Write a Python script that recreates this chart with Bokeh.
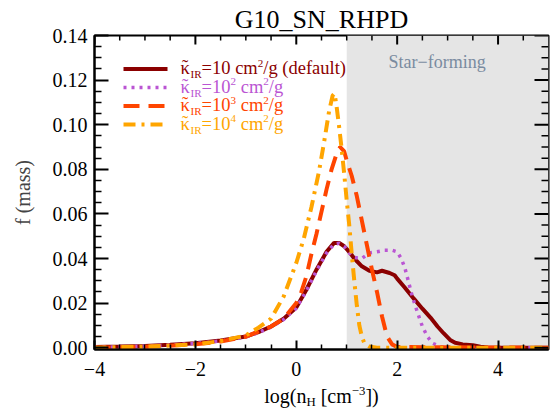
import math
from bokeh.plotting import figure
from bokeh.layouts import column
from bokeh.models import Label, BoxAnnotation, FixedTicker, Range1d
from bokeh.core.properties import value
from bokeh.embed import file_html
from bokeh.resources import INLINE

# ---------------- data ----------------
TITLE = "G10_SN_RHPD"
X_RANGE = (-4.0, 5.0)
Y_RANGE = (-0.0008, 0.14)
STAR_FORMING_MIN = 1.0

X_TICKS = [-4, -2, 0, 2, 4]
X_TICK_LABELS = ["\u22124", "\u22122", "0", "2", "4"]
X_MINOR = [-3.5, -3, -2.5, -1.5, -1, -0.5, 0.5, 1, 1.5, 2.5, 3, 3.5, 4.5]
Y_TICKS = [0.0, 0.02, 0.04, 0.06, 0.08, 0.10, 0.12, 0.14]
Y_TICK_LABELS = ["0.00", "0.02", "0.04", "0.06", "0.08", "0.10", "0.12", "0.14"]
Y_MINOR = [0.005, 0.01, 0.015, 0.025, 0.03, 0.035, 0.045, 0.05, 0.055, 0.065, 0.07, 0.075,
           0.085, 0.09, 0.095, 0.105, 0.11, 0.115, 0.125, 0.13, 0.135]

# kappa_IR = 10 cm^2/g (default)
x_k1 = [-4.0, -3.5, -3.0, -2.5, -2.0, -1.5, -1.0, -0.75, -0.5, -0.25, 0.0, 0.2, 0.4, 0.6,
        0.75, 0.85, 0.95, 1.05, 1.15, 1.3, 1.45, 1.6, 1.7, 1.85, 1.95, 2.0, 2.15, 2.33, 2.5,
        2.66, 2.8, 2.92, 3.05, 3.15, 3.3, 3.5, 3.65, 3.8, 4.0, 5.0]
y_k1 = [0.0003, 0.0005, 0.0008, 0.0013, 0.002, 0.0032, 0.005, 0.007, 0.0095, 0.013, 0.018,
        0.026, 0.035, 0.043, 0.047, 0.047, 0.0455, 0.043, 0.040, 0.0365, 0.0345, 0.0338,
        0.0345, 0.0335, 0.0325, 0.031, 0.027, 0.022, 0.0175, 0.0135, 0.0095, 0.0065, 0.0035,
        0.0022, 0.0015, 0.0011, 0.0004, 0.0001, 0.0, 0.0]

# kappa_IR = 10^2 cm^2/g
x_k2 = [-4.0, -3.5, -3.0, -2.5, -2.0, -1.5, -1.0, -0.75, -0.5, -0.25, 0.0, 0.2, 0.4, 0.6,
        0.75, 0.85, 0.95, 1.05, 1.15, 1.3, 1.45, 1.6, 1.75, 1.9, 2.0, 2.08, 2.15, 2.22, 2.3,
        2.4, 2.5, 2.6, 2.7, 2.85, 3.0, 5.0]
y_k2 = [0.0002, 0.0004, 0.0007, 0.0012, 0.0019, 0.003, 0.0048, 0.0068, 0.0092, 0.0127,
        0.0177, 0.0255, 0.0345, 0.0425, 0.0465, 0.0468, 0.0455, 0.0425, 0.0405, 0.040,
        0.0425, 0.043, 0.0437, 0.0437, 0.043, 0.040, 0.036, 0.030, 0.023, 0.016, 0.0095,
        0.005, 0.002, 0.0005, 0.0, 0.0]

# kappa_IR = 10^3 cm^2/g
x_k3 = [-4.0, -3.0, -2.0, -1.5, -1.0, -0.5, -0.25, 0.0, 0.1, 0.2, 0.3, 0.4, 0.5, 0.6, 0.7,
        0.8, 0.87, 0.95, 1.0, 1.1, 1.2, 1.3, 1.4, 1.5, 1.6, 1.7, 1.8, 1.9, 2.0, 5.0]
y_k3 = [0.0, 0.0004, 0.0015, 0.0028, 0.005, 0.0095, 0.013, 0.020, 0.025, 0.032, 0.042, 0.051,
        0.061, 0.071, 0.080, 0.087, 0.090, 0.088, 0.084, 0.077, 0.068, 0.057, 0.046, 0.035,
        0.025, 0.014, 0.005, 0.0015, 0.0003, 0.0]

# kappa_IR = 10^4 cm^2/g
x_k4 = [-4.0, -3.0, -2.0, -1.5, -1.0, -0.75, -0.5, -0.25, 0.0, 0.15, 0.3, 0.45, 0.55, 0.65,
        0.72, 0.76, 0.8, 0.85, 0.9, 0.95, 1.0, 1.05, 1.1, 1.15, 1.2, 1.25, 1.3, 1.35, 1.45,
        1.6, 5.0]
y_k4 = [0.0, 0.0005, 0.0015, 0.003, 0.0055, 0.009, 0.013, 0.023, 0.038, 0.049, 0.063, 0.079,
        0.092, 0.106, 0.113, 0.114, 0.108, 0.099, 0.089, 0.078, 0.066, 0.055, 0.042, 0.030,
        0.019, 0.010, 0.005, 0.002, 0.0005, 0.0, 0.0]

SERIES_EXP = [None, "2", "3", "4"]

# ---------------- styling / layout (image pixels) ----------------
FONT = "Liberation Serif"
COLORS = ["#8B0000", "#BA55D3", "#FF4500", "#FFA500"]
DASHES = ["solid", "3 5", "16 9", "12 6 3 6"]
WIDTHS = [4, 3.5, 4, 4]
BASE_FIX = 0.28   # correction (in em) so that text baselines land where intended

W = 550
FL, FR, FT, FB = 94, 548, 35, 349          # plot frame
MAIN_BOTTOM_BORDER = 34
H_MAIN = FT + (FB - FT) + MAIN_BOTTOM_BORDER   # 0..383
H_XLAB = 25                                     # 383..408
XLAB_TOP = H_MAIN

# Times metrics (per 1000 em)
WT = {' ': 250, '(': 333, ')': 333, '[': 333, ']': 333, '/': 278, '=': 564, '\u2212': 564,
      '.': 250, '_': 500, '\u03ba': 540, '\u02dc': 333,
      'a': 444, 'b': 500, 'c': 444, 'd': 500, 'e': 444, 'f': 333, 'g': 500, 'h': 500, 'i': 278,
      'l': 278, 'm': 778, 'n': 500, 'o': 500, 'r': 333, 's': 389, 't': 278, 'u': 500,
      'D': 722, 'G': 722, 'H': 722, 'I': 333, 'N': 722, 'P': 556, 'R': 667, 'S': 556}


def tw(s, size):
    return sum(WT.get(c, 500) for c in s) / 1000.0 * size


def layout_pieces(x_start, pieces, size, align="left"):
    """pieces: (text, scale, yshift_px, xshift_px, advance)"""
    out = []
    x = 0.0
    for t, sc, sh, xs, adv in pieces:
        fs = size * sc
        lead = len(t) - len(t.lstrip(' '))
        trail = len(t) - len(t.rstrip(' '))
        core = t.strip(' ')
        x += lead * tw(' ', fs)
        if core:
            out.append((x + xs, sh, core, fs))
        if adv:
            x += tw(core, fs) + trail * tw(' ', fs)
    total = x
    x0 = x_start - (total / 2 if align == "center" else 0)
    return [(x0 + a, b, c, d) for a, b, c, d in out]


# ---- main figure ----
p = figure(width=W, height=H_MAIN, output_backend="svg", toolbar_location=None,
           x_range=Range1d(*X_RANGE), y_range=Range1d(*Y_RANGE),
           min_border_left=FL, min_border_right=W - FR,
           min_border_top=FT, min_border_bottom=MAIN_BOTTOM_BORDER, title=TITLE)
p.title.text_font = FONT
p.title.text_font_size = "26px"
p.title.text_font_style = "normal"
p.title.text_color = "black"
p.title.align = "center"
p.title.standoff = 4
p.xgrid.visible = False
p.ygrid.visible = False
p.outline_line_color = "black"
p.outline_line_width = 2

PXU = (FR - FL) / (X_RANGE[1] - X_RANGE[0])
PYU = (FB - FT) / (Y_RANGE[1] - Y_RANGE[0])


def dx(px):
    return X_RANGE[0] + (px - FL) / PXU


def dy(py):
    return Y_RANGE[0] + (FB - py) / PYU


def rich_main(x_px, base_py, pieces, color, size, align="left"):
    for x, sh, t, fs in layout_pieces(x_px, pieces, size, align):
        p.add_layout(Label(x=dx(x), y=dy(base_py - sh - BASE_FIX * fs), text=t,
                           text_font=FONT, text_font_size=f"{fs:.1f}px", text_color=color,
                           text_baseline="alphabetic", text_align="left"))


# star-forming region
p.add_layout(BoxAnnotation(left=STAR_FORMING_MIN, fill_color="#E5E5E5", fill_alpha=1.0,
                           line_color=None, level="underlay"))

# curves
for xs, ys, c, d, w in zip([x_k1, x_k2, x_k3, x_k4], [y_k1, y_k2, y_k3, y_k4],
                           COLORS, DASHES, WIDTHS):
    p.line(xs, ys, line_color=c, line_dash=d, line_width=w)

# axes (left / bottom)
p.xaxis.ticker = FixedTicker(ticks=X_TICKS, minor_ticks=X_MINOR)
p.yaxis.ticker = FixedTicker(ticks=Y_TICKS, minor_ticks=Y_MINOR)
p.xaxis.major_label_overrides = {t: l for t, l in zip(X_TICKS, X_TICK_LABELS)}
p.yaxis.major_label_overrides = {t: l for t, l in zip(Y_TICKS, Y_TICK_LABELS)}
for ax, tin, mn in ((p.xaxis[0], 9, 5), (p.yaxis[0], 14, 7)):
    ax.major_tick_in = tin
    ax.major_tick_out = 0
    ax.minor_tick_in = mn
    ax.minor_tick_out = 0
    ax.axis_line_width = 2
    ax.major_tick_line_width = 2
    ax.minor_tick_line_width = 1.5
    ax.major_label_text_font = FONT
    ax.major_label_text_font_size = "20px"
    ax.major_label_text_color = "black"
p.xaxis.major_label_standoff = 12
p.yaxis.major_label_standoff = 7
p.yaxis.axis_label = "f (mass)"
p.yaxis.axis_label_text_font = FONT
p.yaxis.axis_label_text_font_size = "20px"
p.yaxis.axis_label_text_font_style = "normal"
p.yaxis.axis_label_standoff = 16

# mirrored ticks on top / right (inward)
xr, yr = X_RANGE, Y_RANGE
for ticks, ln, lw in ((X_TICKS, 9, 2), (X_MINOR, 5, 1.5)):
    p.segment(x0=ticks, y0=[yr[1]] * len(ticks), x1=ticks, y1=[yr[1] - ln / PYU] * len(ticks),
              line_color="black", line_width=lw)
for ticks, ln, lw in ((Y_TICKS, 14, 2), (Y_MINOR, 7, 1.5)):
    p.segment(x0=[xr[1]] * len(ticks), y0=ticks, x1=[xr[1] - ln / PXU] * len(ticks), y1=ticks,
              line_color="black", line_width=lw)

# star forming text
rich_main(388, 67, [("Star\u2212forming", 1, 0, 0, True)], "#7A8BA0", 18)

# legend
ROW_BASE = [73, 91.5, 110, 128.5]
for i, (c, d, w, e) in enumerate(zip(COLORS, DASHES, WIDTHS, SERIES_EXP)):
    b = ROW_BASE[i]
    p.line([dx(123), dx(167)], [dy(b - 4.5), dy(b - 4.5)], line_color=c, line_dash=d,
           line_width=w)
    kap = [("\u02dc", 1, 1, 1.5, False), ("\u03ba", 1, 0, 0, True), ("IR", 0.6, -4, 0, True)]
    if e is None:
        pieces = kap + [("=10 cm", 1, 0, 0, True), ("2", 0.6, 7, 0, True),
                        ("/g (default)", 1, 0, 0, True)]
    else:
        pieces = kap + [("=10", 1, 0, 0, True), (e, 0.6, 7, 0, True), (" cm", 1, 0, 0, True),
                        ("2", 0.6, 7, 0, True), ("/g", 1, 0, 0, True)]
    rich_main(180, b, pieces, c, 18.5)

# ---- x label figure (frame aligned with main frame; data units = image pixels) ----
px_ = figure(width=W, height=H_XLAB, x_range=Range1d(FL, FR), y_range=Range1d(0, H_XLAB),
             x_axis_type=None, y_axis_type=None, output_backend="svg",
             toolbar_location=None, title_location=None,
             min_border_left=FL, min_border_right=W - FR, min_border_top=0,
             min_border_bottom=0)
px_.outline_line_color = None
px_.xgrid.visible = False
px_.ygrid.visible = False
XL = [("log(n", 1, 0, 0, True), ("H", 0.64, -4, 0, True), (" [cm", 1, 0, 0, True),
      ("\u22123", 0.64, 6.5, 0, True), ("])", 1, 0, 0, True)]
for x, sh, t, fs in layout_pieces((FL + FR) / 2, XL, 20, "center"):
    px_.text(x=[x], y=[XLAB_TOP + H_XLAB - 401 + sh + BASE_FIX * fs], text=[t],
             text_font=value(FONT), text_font_size=f"{fs:.1f}px", text_align="left",
             text_baseline="alphabetic", text_color="black")

layout = column(p, px_, spacing=0)
open("out.html", "w").write(file_html(layout, INLINE))
